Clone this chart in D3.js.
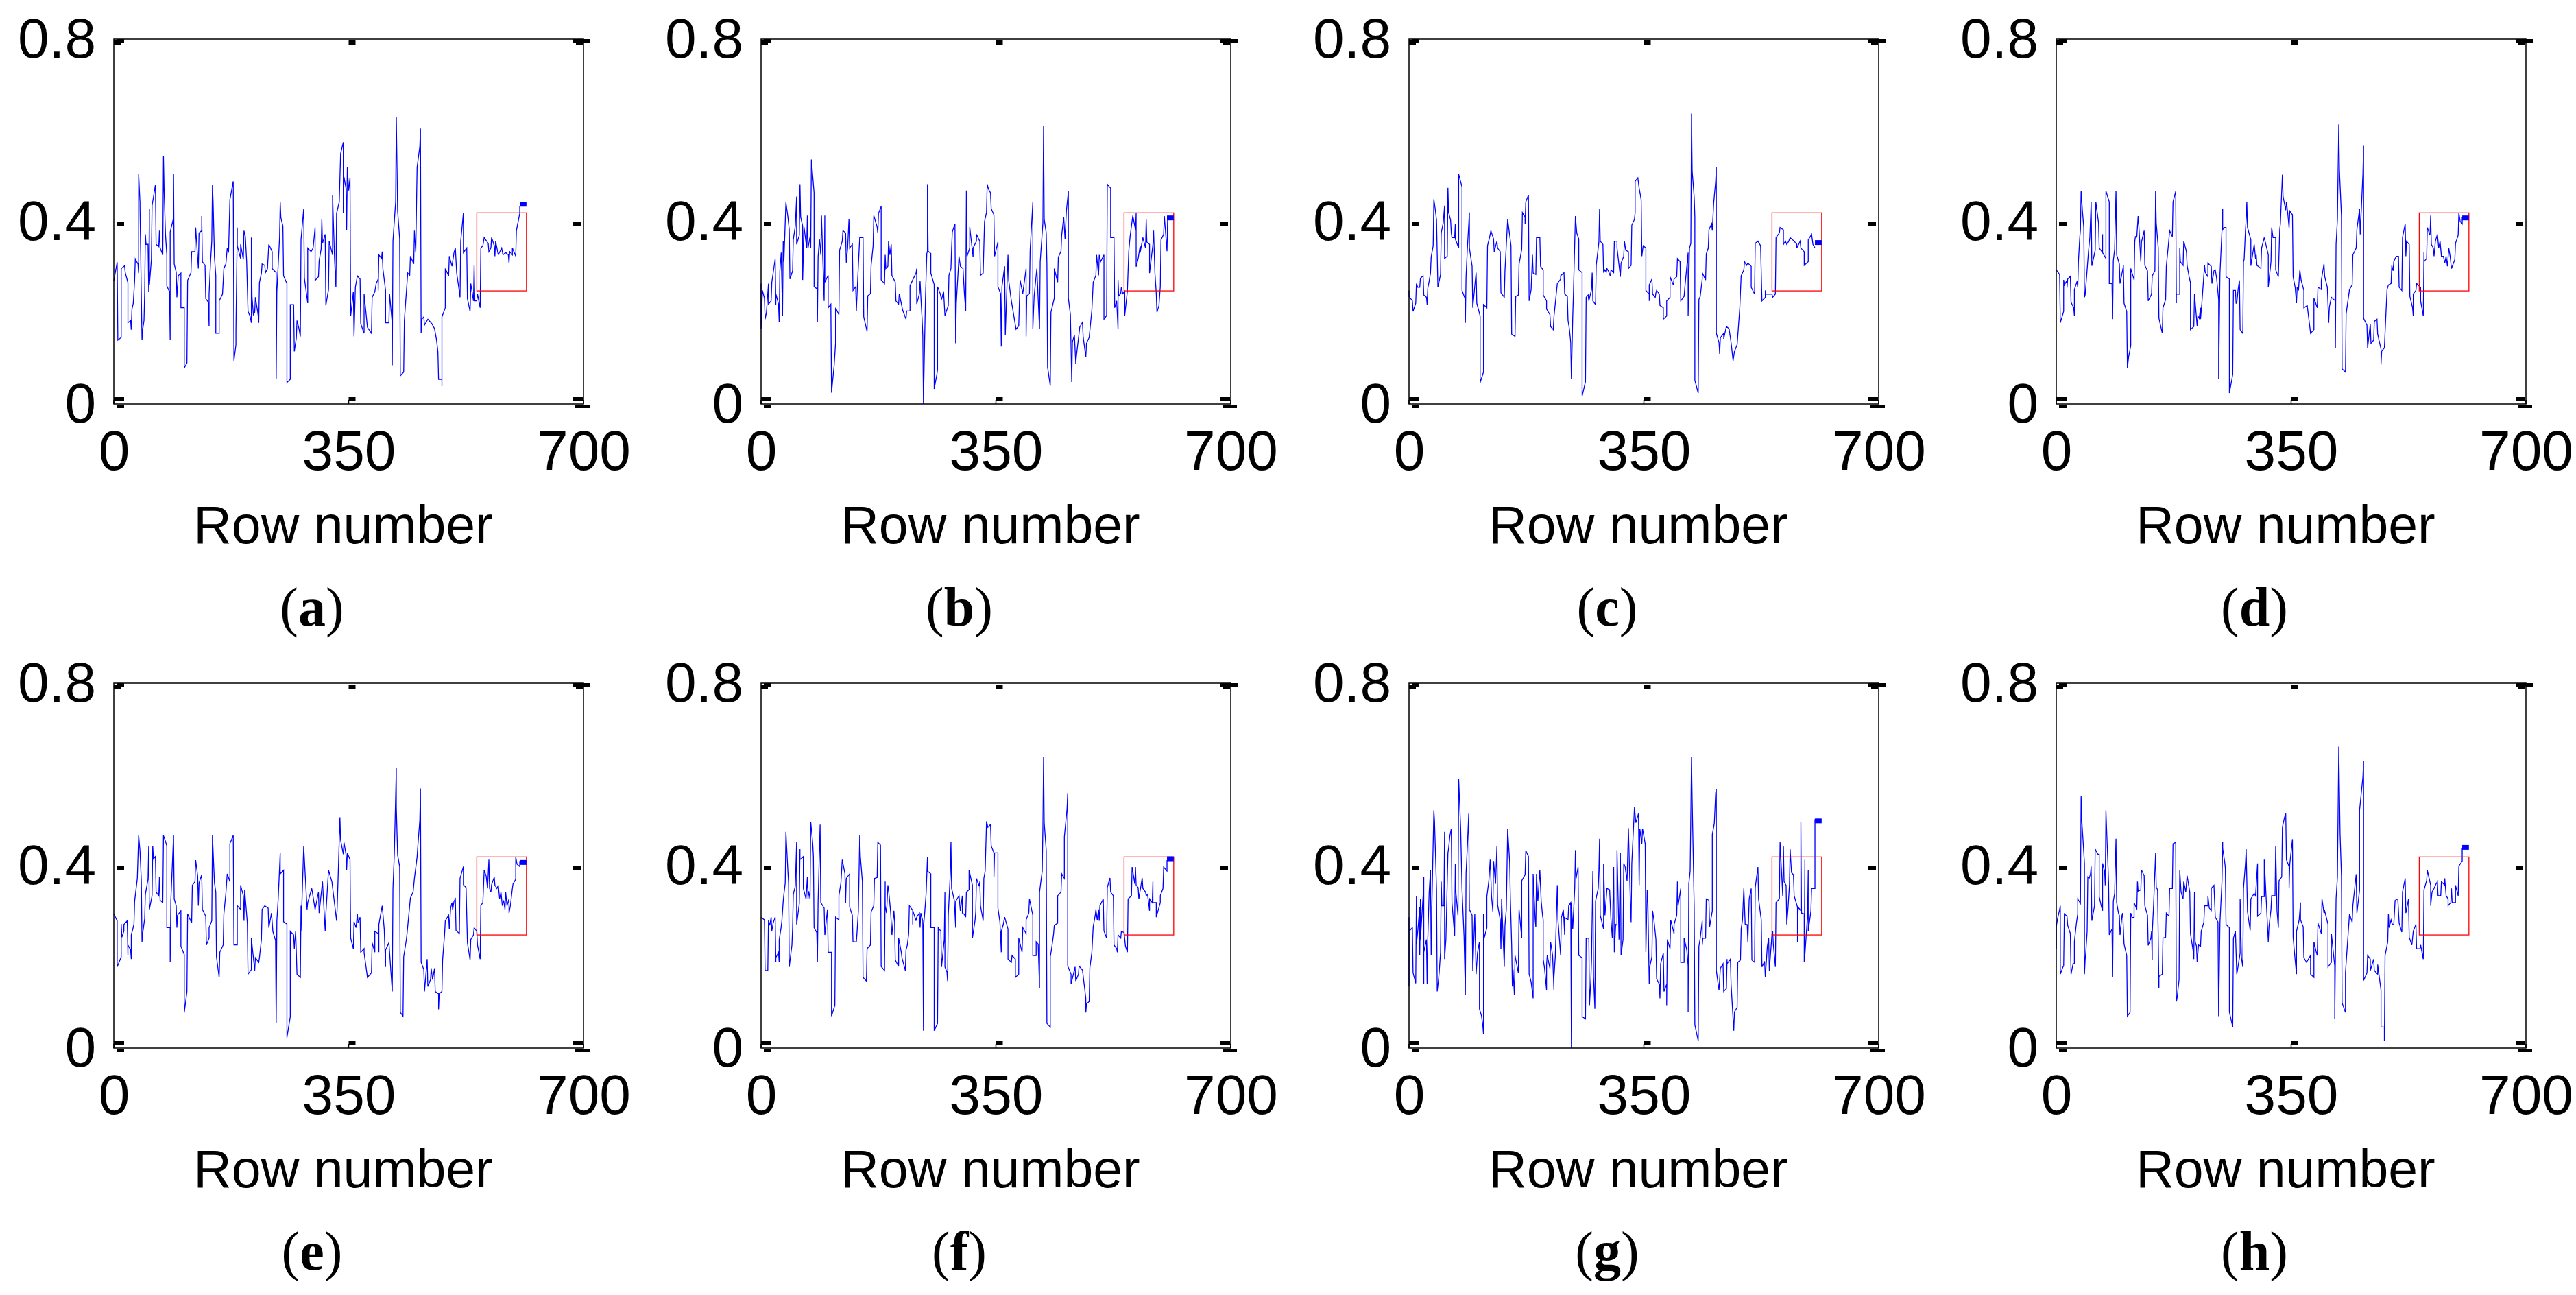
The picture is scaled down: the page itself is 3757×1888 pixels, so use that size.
<!DOCTYPE html>
<html>
<head>
<meta charset="utf-8">
<script src="https://cdn.jsdelivr.net/npm/d3@7"></script>
<style>
body { margin: 0; background: #fff; }
</style>
</head>
<body>
<script>
// eight panels, row number vs value

var xTicks = [0, 350, 700];
var yTicks = [0, 0.4, 0.8];
var captions = ['a', 'b', 'c', 'd', 'e', 'f', 'g', 'h'];

// zoom box drawn on every panel
var boxRows = [541, 615];
var boxVals = [0.248, 0.419];

// small blue end mark on every panel (row span, value)
var markRows = [605, 615];
var markVals = [0.438, 0.408, 0.354, 0.408, 0.407, 0.415, 0.498, 0.440];

var seriesA = [[0,.27],[5,.311],[6,.14],[11,.146],[11,.297],[16,.303],[17,.288],[21,.266],[21,.178],[25,.183],[26,.163],[27,.208],[29,.221],[31,.271],[32,.318],[36,.307],[37,.287],[37,.504],[39,.443],[39,.433],[42,.14],[43,.163],[45,.183],[46,.246],[47,.372],[48,.35],[51,.35],[52,.246],[53,.428],[53,.261],[56,.317],[57,.435],[59,.453],[62,.481],[63,.35],[67,.345],[68,.38],[69,.342],[73,.327],[74,.544],[75,.468],[77,.372],[79,.327],[79,.259],[83,.246],[84,.14],[84,.377],[89,.408],[89,.504],[90,.307],[93,.289],[94,.234],[96,.281],[100,.287],[100,.211],[105,.211],[105,.079],[109,.09],[110,.271],[115,.288],[116,.334],[121,.334],[122,.387],[126,.297],[127,.375],[131,.38],[131,.412],[132,.312],[136,.304],[137,.231],[141,.223],[142,.17],[142,.241],[144,.307],[146,.357],[147,.481],[148,.443],[150,.322],[152,.281],[152,.155],[157,.155],[157,.226],[162,.241],[164,.297],[167,.307],[169,.342],[171,.332],[173,.448],[178,.488],[179,.095],[182,.13],[182,.16],[184,.387],[184,.347],[189,.319],[189,.35],[193,.317],[194,.38],[196,.367],[198,.312],[200,.203],[203,.193],[205,.178],[205,.365],[206,.234],[208,.196],[210,.201],[211,.234],[215,.196],[216,.178],[217,.266],[220,.287],[221,.307],[225,.304],[226,.288],[229,.297],[231,.35],[236,.334],[236,.297],[242,.288],[242,.054],[243,.246],[247,.365],[248,.443],[249,.408],[252,.39],[253,.281],[258,.264],[258,.047],[263,.054],[263,.218],[268,.218],[269,.115],[272,.145],[273,.183],[276,.165],[278,.148],[279,.36],[283,.428],[284,.276],[289,.221],[289,.342],[294,.334],[297,.342],[300,.387],[300,.271],[305,.279],[306,.314],[309,.34],[310,.405],[311,.352],[315,.372],[316,.216],[320,.251],[321,.357],[326,.327],[326,.458],[329,.317],[331,.256],[332,.418],[336,.443],[338,.549],[342,.574],[342,.418],[343,.498],[346,.473],[347,.382],[348,.519],[350,.468],[352,.496],[353,.193],[357,.246],[358,.148],[360,.256],[363,.281],[367,.274],[368,.176],[373,.155],[373,.241],[378,.168],[384,.155],[385,.234],[389,.246],[391,.264],[394,.274],[394,.249],[395,.327],[399,.319],[400,.334],[401,.297],[405,.249],[405,.178],[410,.178],[411,.241],[415,.176],[415,.085],[416,.357],[420,.443],[421,.63],[423,.423],[426,.362],[427,.062],[432,.07],[433,.183],[438,.287],[441,.282],[442,.324],[447,.307],[448,.38],[450,.332],[452,.519],[456,.564],[457,.604],[458,.155],[459,.186],[462,.191],[463,.173],[468,.186],[474,.176],[478,.165],[481,.14],[483,.115],[484,.054],[489,.054],[489,.039],[489,.191],[494,.211],[494,.297],[499,.281],[500,.324],[504,.302],[507,.332],[509,.342],[511,.287],[515,.246],[516,.234],[517,.357],[521,.419],[521,.332],[526,.342],[527,.231],[531,.203],[532,.264],[536,.226],[537,.304],[538,.226],[541,.226],[542,.241],[546,.211],[547,.342],[550,.347],[552,.365],[558,.352],[559,.334],[562,.342],[563,.365],[567,.347],[568,.324],[569,.357],[573,.327],[578,.342],[580,.327],[584,.332],[588,.327],[589,.309],[590,.334],[594,.327],[594,.342],[599,.324],[600,.38],[605,.418],[605,.434]];

var seriesB = [[0,.264],[0,.164],[2,.249],[5,.232],[6,.186],[8,.201],[11,.264],[11,.219],[15,.226],[16,.267],[21,.318],[22,.217],[22,.242],[26,.219],[27,.179],[28,.292],[30,.332],[32,.194],[33,.357],[34,.312],[37,.442],[40,.410],[42,.382],[43,.274],[47,.292],[48,.360],[51,.390],[53,.455],[53,.350],[57,.370],[58,.482],[59,.410],[62,.390],[62,.272],[64,.388],[68,.342],[69,.413],[70,.342],[73,.367],[74,.342],[75,.536],[78,.481],[79,.463],[79,.257],[84,.252],[84,.179],[85,.322],[87,.362],[89,.327],[90,.413],[94,.226],[95,.413],[95,.267],[100,.282],[100,.211],[104,.219],[105,.025],[109,.086],[111,.133],[111,.211],[116,.196],[117,.337],[121,.357],[122,.380],[126,.375],[127,.310],[129,.342],[131,.405],[132,.342],[136,.350],[137,.249],[141,.257],[142,.204],[144,.272],[147,.365],[152,.365],[153,.191],[158,.159],[159,.237],[163,.242],[164,.304],[167,.347],[168,.413],[173,.388],[174,.375],[175,.418],[179,.433],[179,.272],[184,.264],[185,.327],[186,.297],[189,.302],[190,.357],[192,.327],[194,.350],[195,.282],[200,.267],[201,.226],[205,.219],[206,.242],[211,.206],[216,.186],[217,.204],[222,.204],[222,.259],[226,.272],[231,.287],[232,.297],[232,.219],[236,.242],[237,.270],[239,.211],[240,.186],[241,.151],[242,0],[243,.081],[245,.232],[247,.330],[248,.335],[248,.482],[249,.335],[253,.330],[253,.287],[258,.262],[258,.033],[262,.065],[263,.075],[263,.257],[267,.242],[269,.229],[272,.247],[274,.194],[279,.216],[280,.282],[283,.297],[284,.342],[285,.377],[289,.395],[290,.133],[291,.221],[295,.324],[297,.302],[301,.297],[303,.242],[305,.204],[306,.468],[307,.324],[311,.342],[311,.388],[316,.322],[316,.342],[321,.357],[321,.372],[326,.357],[327,.282],[331,.287],[333,.400],[336,.420],[337,.482],[339,.471],[342,.463],[343,.428],[347,.415],[348,.324],[353,.355],[353,.257],[357,.242],[358,.126],[359,.257],[363,.302],[364,.151],[368,.327],[369,.272],[373,.226],[380,.164],[384,.171],[386,.272],[390,.242],[395,.297],[395,.148],[396,.237],[400,.242],[401,.337],[405,.442],[405,.164],[407,.237],[411,.297],[415,.164],[416,.312],[420,.397],[421,.61],[422,.405],[425,.375],[426,.307],[427,.081],[431,.040],[432,.201],[437,.232],[437,.297],[442,.267],[443,.322],[447,.335],[448,.370],[451,.410],[453,.362],[455,.423],[458,.466],[458,.232],[461,.196],[463,.048],[464,.136],[467,.151],[469,.088],[470,.106],[475,.169],[479,.179],[480,.148],[484,.103],[485,.133],[489,.146],[493,.206],[495,.267],[499,.282],[500,.327],[503,.282],[504,.327],[506,.312],[511,.327],[511,.186],[515,.194],[516,.482],[521,.473],[521,.365],[526,.365],[527,.211],[530,.226],[532,.164],[532,.272],[533,.237],[536,.242],[537,.257],[539,.242],[542,.247],[542,.194],[546,.249],[548,.335],[550,.367],[554,.413],[558,.382],[559,.418],[559,.301],[562,.319],[565,.347],[565,.332],[569,.365],[573,.342],[574,.405],[575,.355],[579,.350],[579,.287],[584,.350],[585,.380],[587,.287],[589,.242],[590,.201],[593,.216],[595,.257],[596,.360],[600,.372],[601,.412],[605,.335],[606,.412]];

var seriesC = [[0,.249],[0,.236],[5,.226],[6,.203],[10,.221],[11,.264],[13,.256],[16,.256],[17,.276],[21,.281],[22,.239],[26,.234],[27,.218],[28,.254],[30,.269],[32,.287],[33,.322],[36,.347],[37,.449],[39,.428],[41,.403],[43,.256],[47,.284],[48,.375],[51,.397],[53,.435],[53,.319],[57,.324],[58,.474],[59,.420],[62,.403],[63,.375],[64,.365],[68,.365],[69,.395],[69,.362],[74,.342],[74,.504],[79,.476],[79,.249],[84,.229],[84,.178],[85,.279],[87,.342],[90,.420],[90,.342],[94,.302],[95,.211],[99,.274],[100,.288],[101,.221],[106,.193],[106,.047],[111,.070],[111,.218],[116,.211],[117,.347],[120,.365],[122,.380],[126,.362],[127,.334],[131,.357],[132,.342],[136,.334],[137,.244],[142,.234],[143,.292],[147,.405],[152,.347],[153,.153],[158,.148],[159,.236],[163,.239],[164,.307],[168,.339],[169,.420],[173,.410],[173,.395],[174,.443],[178,.458],[179,.226],[182,.251],[184,.327],[185,.287],[189,.284],[190,.365],[195,.365],[196,.302],[200,.294],[200,.239],[205,.226],[205,.208],[210,.196],[211,.170],[215,.163],[216,.191],[221,.264],[226,.274],[226,.281],[231,.288],[232,.241],[236,.236],[237,.183],[239,.165],[241,.135],[242,.054],[244,.191],[245,.241],[248,.412],[250,.375],[253,.362],[253,.294],[258,.288],[258,.017],[263,.049],[264,.234],[267,.239],[268,.226],[272,.251],[273,.288],[274,.226],[278,.218],[279,.304],[283,.355],[284,.427],[285,.357],[289,.350],[290,.288],[292,.294],[294,.289],[295,.297],[297,.292],[300,.281],[301,.294],[305,.288],[306,.357],[310,.357],[310,.342],[315,.279],[316,.309],[320,.324],[321,.357],[323,.337],[327,.334],[327,.297],[331,.304],[332,.392],[336,.405],[337,.420],[337,.488],[341,.496],[343,.473],[346,.448],[347,.324],[349,.347],[353,.342],[353,.249],[358,.241],[358,.226],[358,.261],[362,.274],[363,.241],[367,.234],[368,.244],[369,.249],[373,.241],[374,.216],[379,.211],[379,.186],[384,.193],[384,.226],[389,.234],[389,.279],[394,.261],[395,.274],[399,.279],[400,.319],[404,.312],[405,.226],[410,.236],[411,.254],[416,.332],[416,.193],[418,.342],[420,.352],[421,.637],[422,.511],[425,.453],[426,.410],[426,.052],[431,.024],[432,.229],[434,.236],[437,.274],[437,.288],[442,.272],[443,.329],[446,.342],[447,.382],[451,.395],[452,.380],[454,.440],[457,.488],[458,.520],[458,.155],[462,.135],[463,.110],[464,.145],[469,.155],[469,.143],[473,.170],[477,.165],[480,.135],[483,.095],[485,.115],[489,.130],[493,.211],[495,.281],[499,.294],[500,.312],[503,.304],[505,.309],[510,.302],[510,.256],[515,.241],[516,.352],[520,.357],[524,.347],[526,.226],[531,.234],[531,.249],[532,.241],[541,.241],[542,.234],[546,.241],[547,.365],[552,.375],[553,.387],[558,.382],[558,.350],[561,.357],[563,.350],[566,.357],[568,.365],[574,.357],[578,.350],[578,.342],[583,.357],[584,.342],[589,.334],[589,.304],[595,.312],[595,.360],[600,.372],[602,.350],[605,.342]];

var seriesD = [[0,.294],[5,.284],[6,.178],[11,.203],[11,.272],[12,.261],[16,.271],[16,.255],[17,.274],[21,.280],[22,.223],[26,.211],[27,.193],[27,.251],[31,.269],[32,.256],[33,.312],[35,.365],[36,.382],[37,.467],[39,.423],[41,.387],[42,.234],[43,.239],[45,.276],[48,.334],[50,.365],[52,.443],[53,.303],[58,.337],[59,.443],[63,.397],[64,.342],[68,.334],[69,.372],[69,.332],[74,.319],[74,.467],[79,.443],[79,.264],[83,.264],[84,.186],[85,.314],[87,.339],[89,.467],[90,.327],[94,.307],[95,.264],[100,.302],[100,.304],[101,.221],[105,.203],[106,.079],[108,.105],[111,.128],[111,.297],[116,.272],[117,.357],[118,.367],[120,.366],[122,.412],[123,.392],[126,.312],[127,.355],[131,.380],[132,.304],[136,.292],[137,.226],[142,.241],[143,.281],[147,.292],[148,.467],[149,.397],[152,.342],[153,.188],[158,.155],[159,.211],[163,.229],[164,.302],[167,.347],[169,.380],[173,.367],[174,.443],[178,.466],[179,.221],[179,.241],[184,.241],[184,.342],[185,.312],[189,.304],[190,.357],[194,.334],[195,.304],[198,.279],[200,.266],[200,.163],[205,.170],[206,.241],[210,.170],[211,.193],[213,.188],[215,.211],[215,.186],[217,.221],[221,.304],[222,.289],[226,.279],[226,.309],[231,.302],[232,.264],[235,.292],[237,.294],[239,.276],[242,.229],[242,.054],[244,.287],[247,.382],[248,.428],[248,.382],[250,.387],[253,.387],[253,.279],[258,.274],[258,.024],[263,.065],[264,.249],[267,.249],[268,.221],[269,.221],[271,.251],[273,.271],[274,.163],[278,.155],[279,.312],[280,.317],[282,.382],[283,.405],[284,.443],[285,.387],[290,.360],[290,.303],[295,.350],[297,.319],[298,.327],[299,.304],[301,.302],[305,.297],[306,.342],[310,.365],[316,.327],[316,.256],[320,.312],[321,.387],[323,.365],[327,.365],[327,.294],[331,.279],[333,.382],[334,.395],[337,.503],[338,.455],[342,.425],[343,.443],[345,.418],[347,.386],[348,.423],[352,.415],[353,.279],[356,.256],[358,.221],[359,.256],[361,.249],[363,.294],[365,.271],[369,.249],[369,.211],[374,.216],[379,.155],[384,.163],[384,.232],[389,.211],[390,.256],[395,.251],[395,.271],[399,.307],[400,.280],[404,.256],[406,.178],[407,.213],[410,.234],[416,.226],[416,.123],[417,.350],[419,.405],[421,.613],[422,.513],[425,.413],[426,.077],[431,.070],[432,.198],[437,.251],[441,.261],[442,.327],[447,.342],[448,.382],[452,.428],[453,.372],[457,.506],[458,.566],[458,.188],[463,.173],[464,.123],[468,.176],[469,.133],[473,.140],[474,.181],[478,.186],[479,.153],[484,.120],[484,.087],[485,.116],[489,.123],[492,.221],[493,.251],[495,.261],[499,.264],[500,.304],[502,.292],[503,.312],[505,.319],[507,.324],[510,.324],[511,.256],[515,.249],[516,.365],[520,.395],[521,.324],[522,.357],[526,.350],[527,.236],[531,.211],[532,.193],[532,.241],[536,.249],[537,.264],[543,.256],[543,.226],[547,.193],[548,.334],[548,.312],[552,.319],[553,.387],[557,.370],[558,.413],[559,.350],[562,.342],[563,.324],[565,.357],[568,.372],[570,.342],[572,.357],[574,.324],[577,.324],[579,.309],[581,.324],[583,.302],[585,.342],[587,.324],[589,.297],[594,.317],[595,.352],[599,.370],[600,.419],[602,.400],[605,.395],[605,.410]];

var seriesE = [[0,.294],[5,.279],[5,.178],[11,.200],[11,.272],[12,.243],[15,.256],[15,.271],[20,.279],[21,.203],[21,.226],[25,.215],[26,.195],[26,.248],[30,.271],[31,.322],[35,.372],[37,.466],[39,.433],[41,.367],[42,.233],[43,.251],[46,.284],[47,.337],[51,.370],[52,.443],[53,.304],[57,.334],[58,.443],[59,.415],[62,.420],[63,.342],[67,.334],[68,.375],[69,.324],[73,.319],[74,.466],[77,.453],[79,.443],[79,.264],[84,.264],[84,.188],[85,.324],[89,.466],[90,.327],[93,.312],[94,.264],[95,.291],[100,.301],[100,.223],[105,.205],[105,.078],[109,.124],[110,.294],[116,.274],[117,.357],[121,.365],[122,.412],[125,.377],[126,.312],[127,.362],[131,.380],[132,.304],[137,.289],[138,.226],[142,.241],[142,.264],[146,.279],[147,.466],[150,.362],[152,.342],[153,.200],[157,.155],[158,.210],[163,.226],[164,.294],[167,.339],[169,.382],[173,.365],[173,.448],[178,.466],[179,.226],[184,.226],[184,.312],[189,.304],[189,.357],[193,.334],[194,.279],[195,.347],[199,.274],[200,.162],[205,.172],[205,.241],[210,.170],[211,.198],[216,.188],[217,.198],[220,.238],[221,.304],[225,.312],[230,.307],[231,.264],[235,.296],[237,.256],[241,.236],[242,.054],[243,.279],[245,.327],[248,.428],[248,.382],[253,.390],[253,.277],[258,.272],[258,.023],[263,.069],[263,.256],[268,.248],[269,.218],[271,.256],[273,.162],[278,.155],[279,.312],[279,.256],[283,.443],[288,.304],[289,.319],[295,.350],[300,.304],[305,.342],[306,.296],[311,.365],[315,.257],[316,.294],[320,.390],[325,.365],[332,.279],[333,.312],[337,.506],[338,.456],[342,.425],[343,.451],[346,.425],[347,.390],[348,.428],[352,.413],[353,.241],[357,.218],[358,.277],[361,.264],[363,.294],[364,.274],[367,.287],[368,.210],[373,.218],[373,.209],[378,.155],[384,.165],[385,.231],[389,.210],[389,.256],[394,.251],[395,.210],[395,.271],[400,.312],[403,.261],[405,.178],[405,.215],[410,.231],[415,.124],[416,.350],[418,.425],[421,.614],[421,.529],[423,.423],[426,.398],[427,.078],[431,.070],[432,.200],[436,.238],[437,.251],[442,.329],[446,.342],[448,.372],[452,.419],[453,.441],[456,.499],[457,.569],[458,.188],[462,.172],[463,.124],[467,.195],[468,.135],[472,.150],[473,.175],[475,.150],[478,.175],[479,.124],[484,.119],[484,.085],[485,.119],[489,.124],[490,.193],[493,.251],[494,.279],[499,.291],[500,.261],[502,.307],[504,.319],[505,.303],[507,.322],[509,.327],[510,.258],[515,.251],[516,.372],[521,.398],[521,.358],[525,.352],[527,.231],[531,.193],[532,.238],[536,.248],[537,.264],[541,.256],[542,.226],[546,.195],[547,.312],[550,.319],[552,.390],[555,.377],[557,.350],[559,.413],[560,.350],[562,.342],[563,.358],[567,.375],[568,.357],[571,.350],[573,.357],[575,.327],[577,.342],[579,.312],[581,.324],[583,.304],[584,.342],[586,.312],[589,.327],[589,.296],[591,.312],[594,.350],[595,.360],[599,.370],[599,.419],[601,.403],[605,.398],[605,.410]];

var seriesF = [[0,.287],[5,.281],[6,.170],[10,.170],[11,.280],[13,.269],[15,.287],[16,.257],[18,.274],[21,.287],[22,.188],[22,.198],[26,.210],[27,.188],[27,.237],[30,.266],[31,.279],[33,.322],[34,.337],[36,.362],[37,.474],[40,.387],[41,.362],[42,.178],[43,.190],[46,.226],[47,.264],[48,.337],[51,.355],[53,.452],[53,.271],[57,.317],[58,.436],[58,.413],[63,.420],[63,.350],[67,.327],[69,.375],[70,.327],[71,.344],[73,.327],[74,.496],[77,.448],[78,.420],[79,.264],[83,.253],[84,.188],[85,.322],[88,.490],[89,.319],[94,.307],[95,.248],[98,.291],[99,.304],[100,.210],[105,.210],[105,.070],[110,.094],[111,.287],[116,.281],[116,.334],[119,.362],[121,.413],[125,.382],[126,.319],[127,.372],[132,.382],[132,.309],[136,.291],[137,.233],[142,.233],[143,.253],[145,.301],[147,.466],[148,.420],[151,.365],[152,.155],[157,.147],[158,.218],[163,.226],[164,.299],[168,.312],[169,.372],[173,.374],[174,.451],[178,.445],[179,.179],[184,.170],[185,.365],[185,.312],[187,.296],[189,.357],[190,.347],[193,.301],[195,.248],[198,.301],[199,.279],[200,.193],[205,.179],[205,.241],[209,.210],[210,.198],[215,.170],[216,.215],[218,.226],[220,.251],[221,.312],[226,.302],[226,.271],[226,.302],[231,.279],[232,.287],[236,.296],[237,.264],[238,.296],[241,.279],[242,.038],[242,.264],[244,.299],[246,.339],[248,.419],[248,.388],[253,.382],[253,.264],[258,.264],[258,.038],[263,.054],[264,.264],[268,.256],[269,.178],[273,.238],[274,.342],[274,.178],[277,.167],[278,.147],[279,.291],[282,.382],[283,.452],[284,.350],[288,.324],[290,.264],[290,.322],[295,.334],[297,.301],[300,.334],[300,.296],[303,.293],[305,.287],[306,.342],[310,.347],[310,.390],[315,.357],[315,.241],[319,.281],[320,.299],[321,.372],[325,.355],[326,.365],[327,.312],[331,.279],[332,.372],[334,.388],[336,.497],[338,.484],[342,.490],[343,.443],[347,.428],[347,.375],[348,.428],[353,.428],[353,.307],[356,.276],[358,.210],[358,.256],[361,.271],[363,.287],[368,.261],[368,.195],[373,.188],[374,.203],[379,.195],[379,.155],[384,.162],[384,.241],[389,.210],[390,.264],[395,.251],[395,.281],[399,.296],[400,.327],[405,.291],[405,.203],[410,.203],[410,.233],[413,.228],[415,.132],[415,.342],[419,.388],[420,.484],[421,.638],[422,.494],[425,.433],[426,.054],[431,.046],[431,.200],[433,.218],[436,.251],[437,.269],[442,.274],[442,.334],[447,.342],[448,.382],[452,.372],[452,.463],[456,.524],[457,.559],[457,.180],[462,.162],[462,.140],[468,.178],[469,.147],[473,.162],[474,.180],[479,.171],[484,.109],[484,.078],[485,.097],[489,.102],[490,.176],[493,.210],[495,.266],[498,.291],[499,.304],[501,.281],[503,.304],[504,.279],[505,.312],[510,.327],[511,.257],[515,.241],[516,.352],[520,.373],[521,.342],[525,.334],[526,.226],[530,.218],[531,.210],[532,.248],[536,.241],[537,.256],[541,.253],[543,.224],[546,.210],[547,.327],[552,.334],[553,.397],[557,.360],[558,.397],[559,.357],[562,.352],[563,.327],[568,.373],[569,.350],[573,.342],[574,.334],[576,.337],[579,.301],[579,.327],[583,.319],[584,.365],[584,.319],[589,.319],[589,.287],[595,.319],[595,.334],[599,.350],[600,.397],[605,.388],[605,.412]];

var seriesG = [[0,.287],[0,.135],[0,.256],[5,.264],[6,.165],[10,.142],[11,.334],[11,.228],[13,.256],[16,.309],[16,.203],[17,.327],[17,.238],[21,.334],[22,.375],[22,.140],[22,.210],[26,.238],[27,.140],[28,.241],[30,.342],[32,.390],[33,.203],[34,.271],[34,.307],[37,.521],[38,.499],[41,.347],[42,.124],[44,.150],[45,.167],[47,.210],[48,.365],[49,.312],[52,.312],[53,.474],[53,.195],[55,.238],[58,.428],[59,.438],[61,.466],[63,.481],[64,.319],[68,.246],[69,.404],[70,.339],[72,.307],[73,.291],[74,.590],[77,.481],[79,.347],[82,.246],[84,.117],[85,.382],[87,.443],[89,.514],[90,.304],[94,.291],[95,.170],[98,.294],[100,.162],[102,.208],[105,.233],[105,.086],[108,.071],[110,.049],[111,.031],[111,.294],[112,.241],[116,.264],[116,.332],[119,.367],[121,.413],[123,.332],[125,.299],[126,.410],[129,.360],[131,.443],[132,.314],[136,.281],[137,.218],[138,.327],[142,.178],[143,.269],[145,.304],[147,.481],[150,.408],[151,.332],[153,.226],[154,.135],[155,.172],[157,.117],[158,.203],[163,.165],[164,.304],[168,.241],[168,.367],[173,.380],[174,.433],[178,.420],[179,.162],[182,.145],[185,.109],[185,.382],[188,.281],[189,.266],[190,.382],[192,.322],[195,.390],[197,.322],[199,.291],[200,.281],[200,.195],[202,.175],[205,.127],[205,.183],[206,.203],[210,.175],[211,.233],[214,.203],[216,.127],[216,.155],[218,.200],[221,.357],[222,.281],[226,.203],[227,.286],[228,.291],[230,.304],[232,.248],[232,.286],[237,.281],[238,.312],[241,.319],[242,0],[242,.319],[244,.261],[247,.352],[248,.434],[249,.372],[252,.397],[253,.203],[258,.198],[258,.069],[263,.064],[264,.241],[268,.241],[269,.094],[271,.150],[272,.193],[274,.388],[275,.155],[277,.086],[278,.322],[282,.350],[283,.390],[284,.459],[285,.291],[290,.261],[290,.404],[292,.291],[295,.350],[299,.347],[301,.281],[303,.241],[305,.397],[306,.210],[308,.271],[310,.269],[310,.434],[313,.238],[315,.428],[316,.203],[319,.238],[320,.405],[322,.398],[325,.367],[327,.482],[330,.312],[331,.276],[332,.404],[336,.529],[338,.494],[342,.514],[343,.357],[344,.481],[347,.448],[348,.481],[352,.448],[353,.210],[355,.347],[356,.319],[358,.140],[359,.180],[362,.200],[363,.301],[365,.281],[368,.238],[369,.152],[373,.140],[374,.109],[375,.185],[379,.208],[380,.124],[384,.140],[384,.094],[385,.238],[389,.218],[390,.281],[395,.251],[395,.271],[399,.291],[400,.365],[401,.312],[405,.350],[405,.188],[410,.188],[410,.241],[414,.215],[416,.180],[416,.079],[417,.360],[419,.388],[421,.638],[422,.544],[425,.309],[426,.051],[431,.016],[432,.223],[434,.241],[437,.279],[437,.226],[438,.241],[442,.241],[443,.327],[447,.324],[448,.266],[452,.301],[452,.468],[455,.493],[457,.559],[458,.567],[458,.170],[462,.127],[464,.175],[468,.185],[469,.124],[473,.130],[474,.195],[474,.185],[479,.195],[480,.140],[484,.038],[485,.079],[489,.089],[490,.188],[494,.193],[495,.261],[497,.281],[499,.350],[501,.271],[504,.271],[505,.233],[507,.327],[510,.350],[511,.193],[515,.188],[516,.352],[520,.397],[521,.327],[525,.281],[526,.178],[530,.190],[531,.155],[534,.223],[536,.241],[537,.170],[541,.251],[542,.256],[543,.226],[546,.178],[547,.319],[552,.327],[553,.451],[557,.334],[558,.443],[559,.365],[562,.357],[563,.271],[565,.309],[567,.358],[568,.436],[570,.385],[573,.380],[574,.334],[579,.309],[579,.233],[580,.309],[584,.301],[584,.496],[585,.296],[589,.294],[589,.188],[590,.413],[590,.205],[591,.226],[594,.291],[595,.390],[595,.256],[599,.301],[600,.350],[605,.350],[605,.502]];

var seriesH = [[0,.218],[0,.266],[2,.284],[5,.304],[6,.312],[6,.162],[10,.178],[11,.180],[12,.294],[16,.289],[17,.269],[21,.251],[22,.162],[25,.185],[27,.185],[27,.233],[30,.274],[32,.294],[32,.327],[36,.317],[37,.552],[38,.499],[40,.453],[42,.405],[42,.162],[43,.193],[44,.210],[46,.256],[47,.375],[49,.372],[51,.382],[52,.398],[53,.279],[57,.312],[58,.436],[62,.425],[64,.425],[64,.332],[67,.312],[69,.301],[69,.405],[72,.388],[73,.357],[74,.521],[77,.403],[78,.362],[79,.248],[83,.261],[84,.155],[85,.322],[87,.339],[89,.459],[90,.319],[93,.294],[94,.291],[95,.248],[98,.291],[99,.296],[101,.228],[105,.203],[106,.070],[110,.078],[111,.296],[113,.286],[116,.287],[116,.319],[120,.304],[121,.365],[122,.344],[126,.347],[127,.390],[131,.378],[132,.312],[136,.291],[137,.225],[141,.241],[142,.256],[143,.193],[143,.251],[145,.312],[148,.427],[149,.353],[151,.347],[153,.132],[153,.157],[158,.162],[159,.241],[163,.243],[164,.296],[168,.289],[169,.350],[173,.350],[174,.448],[178,.451],[179,.102],[180,.109],[183,.150],[184,.390],[186,.342],[189,.327],[190,.365],[193,.342],[195,.378],[199,.342],[200,.251],[204,.213],[205,.195],[206,.342],[207,.233],[209,.223],[210,.188],[212,.226],[215,.223],[216,.256],[220,.276],[221,.312],[226,.312],[226,.334],[228,.307],[231,.302],[231,.350],[235,.357],[237,.287],[241,.276],[242,.070],[244,.276],[247,.367],[248,.451],[248,.438],[251,.408],[252,.395],[253,.271],[258,.264],[258,.079],[263,.046],[264,.241],[267,.256],[269,.162],[270,.170],[274,.208],[274,.327],[276,.198],[278,.178],[279,.350],[282,.405],[283,.436],[285,.299],[289,.258],[290,.327],[292,.332],[295,.339],[297,.334],[300,.405],[300,.289],[305,.296],[306,.332],[310,.332],[310,.413],[316,.233],[317,.266],[320,.304],[321,.334],[326,.334],[327,.443],[329,.301],[331,.264],[332,.367],[336,.375],[337,.484],[338,.491],[341,.511],[342,.514],[343,.413],[347,.398],[347,.350],[348,.403],[352,.458],[353,.243],[356,.193],[358,.162],[358,.256],[362,.281],[364,.319],[364,.281],[368,.266],[369,.198],[373,.188],[379,.203],[379,.162],[384,.155],[384,.233],[387,.213],[389,.203],[390,.274],[395,.251],[396,.327],[399,.296],[400,.301],[405,.271],[405,.178],[410,.188],[410,.251],[415,.180],[415,.064],[417,.327],[419,.375],[421,.661],[423,.468],[425,.378],[426,.099],[431,.078],[431,.165],[437,.294],[441,.276],[442,.312],[447,.381],[448,.296],[452,.346],[452,.521],[457,.595],[458,.630],[458,.148],[463,.165],[464,.203],[468,.195],[468,.170],[473,.195],[474,.170],[479,.162],[479,.183],[484,.127],[484,.046],[489,.046],[489,.016],[490,.203],[494,.233],[495,.294],[496,.264],[499,.281],[501,.271],[503,.271],[505,.324],[509,.327],[511,.274],[515,.254],[516,.342],[520,.372],[521,.296],[525,.327],[526,.243],[530,.226],[531,.241],[532,.256],[536,.271],[537,.218],[542,.218],[543,.226],[547,.195],[548,.347],[552,.367],[553,.390],[558,.357],[558,.312],[560,.342],[563,.350],[565,.357],[568,.365],[569,.334],[573,.334],[574,.365],[579,.357],[579,.372],[581,.334],[584,.327],[584,.312],[588,.319],[589,.350],[590,.319],[595,.319],[595,.357],[599,.334],[600,.399],[605,.410],[605,.439]];

var allSeries = [seriesA, seriesB, seriesC, seriesD, seriesE, seriesF, seriesG, seriesH];

var colLeft = [166, 1110, 2055, 2999];
var rowTop = [57, 996];
var plotW = 685, plotH = 532;

var svg = d3.select('body').append('svg')
	.attr('width', 3757)
	.attr('height', 1888)
	.style('background', '#fff');

var x = d3.scaleLinear().domain([0, 700]).range([0, plotW]);
var y = d3.scaleLinear().domain([0, 0.8]).range([plotH, 0]);

var line = d3.line()
	.x(function (d) { return x(d[0]); })
	.y(function (d) { return y(d[1]); });

allSeries.forEach(function (data, i) {
	var g = svg.append('g')
		.attr('transform', 'translate(' + colLeft[i % 4] + ',' + rowTop[Math.floor(i / 4)] + ')');

	// axes, only used for the labels
	var xa = g.append('g')
		.attr('transform', 'translate(0,' + plotH + ')')
		.call(d3.axisBottom(x).tickValues(xTicks).tickSize(0).tickPadding(38).tickFormat(d3.format('d')));
	var ya = g.append('g')
		.call(d3.axisLeft(y).tickValues(yTicks).tickSize(0).tickPadding(26).tickFormat(function (d) { return d === 0 ? '0' : d3.format('.1f')(d); }));
	g.selectAll('.domain').remove();
	xa.selectAll('text').attr('font-size', 82).attr('font-family', 'Liberation Sans, Arial, sans-serif').attr('fill', '#000');
	ya.selectAll('text').attr('font-size', 82).attr('font-family', 'Liberation Sans, Arial, sans-serif').attr('fill', '#000');

	g.append('path')
		.datum(data)
		.attr('d', line)
		.attr('fill', 'none')
		.attr('stroke', '#0000ff')
		.attr('stroke-width', 1.3);

	// red zoom box
	g.append('rect')
		.attr('x', x(boxRows[0]))
		.attr('y', y(boxVals[1]))
		.attr('width', x(boxRows[1]) - x(boxRows[0]))
		.attr('height', y(boxVals[0]) - y(boxVals[1]))
		.attr('fill', 'none')
		.attr('stroke', '#ff0000')
		.attr('stroke-width', 1.3);

	// end mark
	g.append('rect')
		.attr('x', x(markRows[0]))
		.attr('y', y(markVals[i]) - 3.5)
		.attr('width', x(markRows[1]) - x(markRows[0]))
		.attr('height', 7)
		.attr('fill', '#0000ff');

	// frame
	g.append('rect')
		.attr('width', plotW)
		.attr('height', plotH)
		.attr('fill', 'none')
		.attr('stroke', '#000')
		.attr('stroke-width', 1.5);

	// tick marks, drawn as small blocks the way the picture shows them
	yTicks.forEach(function (v) {
		var ty = Math.min(y(v), plotH - 10);
		g.append('rect').attr('x', 4).attr('y', ty).attr('width', 11).attr('height', 6).attr('fill', '#000');
		g.append('rect').attr('x', plotW - 15).attr('y', ty).attr('width', 11).attr('height', 6).attr('fill', '#000');
	});
	xTicks.forEach(function (v) {
		var tx = Math.min(x(v), plotW - 11);
		g.append('rect').attr('x', tx).attr('y', plotH - 10).attr('width', 10).attr('height', 5).attr('fill', '#000');
		g.append('rect').attr('x', tx).attr('y', 2).attr('width', 10).attr('height', 6).attr('fill', '#000');
		g.append('line').attr('x1', x(v)).attr('x2', x(v)).attr('y1', plotH - 6).attr('y2', plotH).attr('stroke', '#000').attr('stroke-width', 1.5);
	});
	// the odd blocks sitting on the outside corners
	g.append('rect').attr('x', 4).attr('y', plotH + 1).attr('width', 11).attr('height', 5).attr('fill', '#000');
	g.append('rect').attr('x', plotW - 12).attr('y', plotH + 1).attr('width', 21).attr('height', 5).attr('fill', '#000');
	g.append('rect').attr('x', plotW - 10).attr('y', 0).attr('width', 20).attr('height', 6).attr('fill', '#000');

	g.append('text')
		.attr('x', plotW / 2 - 8)
		.attr('y', 735)
		.attr('text-anchor', 'middle')
		.attr('font-family', 'Liberation Sans, Arial, sans-serif')
		.attr('font-size', 77)
		.text('Row number');

	var cap = g.append('text')
		.attr('x', 289)
		.attr('y', 855)
		.attr('text-anchor', 'middle')
		.attr('font-family', 'Liberation Serif, Times New Roman, serif')
		.attr('font-size', 80);
	cap.append('tspan').text('(');
	cap.append('tspan').attr('font-weight', 'bold').text(captions[i]);
	cap.append('tspan').text(')');
});
</script>
</body>
</html>
